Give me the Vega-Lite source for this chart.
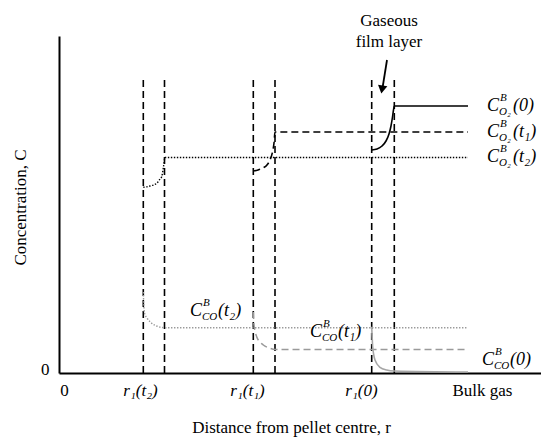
{
  "$schema": "https://vega.github.io/schema/vega-lite/v6.json",
  "width": 482,
  "height": 337,
  "autosize": "none",
  "padding": {"left": 59, "top": 36, "right": 0, "bottom": 64},
  "background": "white",
  "config": {"view": {"stroke": null}, "font": "Liberation Serif"},
  "datasets": {
    "curves": [
      {"s": "O2_0", "i": 0, "x": 312.7, "y": 223}, {"s": "O2_0", "i": 1, "x": 318, "y": 224}, {"s": "O2_0", "i": 2, "x": 323, "y": 227}, {"s": "O2_0", "i": 3, "x": 327, "y": 232}, {"s": "O2_0", "i": 4, "x": 330, "y": 239}, {"s": "O2_0", "i": 5, "x": 332, "y": 247}, {"s": "O2_0", "i": 6, "x": 333.5, "y": 256}, {"s": "O2_0", "i": 7, "x": 334.5, "y": 263}, {"s": "O2_0", "i": 8, "x": 335.3, "y": 267}, {"s": "O2_0", "i": 9, "x": 409, "y": 267},
      {"s": "O2_t1", "i": 0, "x": 194.3, "y": 202}, {"s": "O2_t1", "i": 1, "x": 199, "y": 203}, {"s": "O2_t1", "i": 2, "x": 204, "y": 205}, {"s": "O2_t1", "i": 3, "x": 208, "y": 208}, {"s": "O2_t1", "i": 4, "x": 211, "y": 213}, {"s": "O2_t1", "i": 5, "x": 213.5, "y": 221}, {"s": "O2_t1", "i": 6, "x": 215, "y": 230}, {"s": "O2_t1", "i": 7, "x": 216, "y": 241}, {"s": "O2_t1", "i": 8, "x": 409, "y": 241},
      {"s": "O2_t2", "i": 0, "x": 84.3, "y": 185.7}, {"s": "O2_t2", "i": 1, "x": 91, "y": 187}, {"s": "O2_t2", "i": 2, "x": 97.7, "y": 189.7}, {"s": "O2_t2", "i": 3, "x": 101, "y": 194}, {"s": "O2_t2", "i": 4, "x": 102.7, "y": 196.3}, {"s": "O2_t2", "i": 5, "x": 104.3, "y": 205}, {"s": "O2_t2", "i": 6, "x": 105.3, "y": 212}, {"s": "O2_t2", "i": 7, "x": 105.7, "y": 215.5}, {"s": "O2_t2", "i": 8, "x": 409, "y": 215.5},
      {"s": "CO_t2", "i": 0, "x": 84.3, "y": 81}, {"s": "CO_t2", "i": 1, "x": 84.8, "y": 68}, {"s": "CO_t2", "i": 2, "x": 85.5, "y": 60}, {"s": "CO_t2", "i": 3, "x": 88, "y": 55}, {"s": "CO_t2", "i": 4, "x": 91, "y": 51.3}, {"s": "CO_t2", "i": 5, "x": 97.7, "y": 47}, {"s": "CO_t2", "i": 6, "x": 106, "y": 45.3}, {"s": "CO_t2", "i": 7, "x": 409, "y": 45.3},
      {"s": "CO_t1", "i": 0, "x": 194.3, "y": 61}, {"s": "CO_t1", "i": 1, "x": 195, "y": 48}, {"s": "CO_t1", "i": 2, "x": 197.7, "y": 36.3}, {"s": "CO_t1", "i": 3, "x": 201, "y": 31}, {"s": "CO_t1", "i": 4, "x": 204.3, "y": 28}, {"s": "CO_t1", "i": 5, "x": 211, "y": 24.7}, {"s": "CO_t1", "i": 6, "x": 216, "y": 23.5}, {"s": "CO_t1", "i": 7, "x": 409, "y": 23.5},
      {"s": "CO_0", "i": 0, "x": 312.7, "y": 46.3}, {"s": "CO_0", "i": 1, "x": 313.2, "y": 35}, {"s": "CO_0", "i": 2, "x": 313.7, "y": 26.3}, {"s": "CO_0", "i": 3, "x": 316, "y": 13}, {"s": "CO_0", "i": 4, "x": 321, "y": 5.7}, {"s": "CO_0", "i": 5, "x": 327.7, "y": 3}, {"s": "CO_0", "i": 6, "x": 335.3, "y": 2}, {"s": "CO_0", "i": 7, "x": 409, "y": 1}
    ],
    "bounds": [
      {"x": 84.3, "y": 0, "y2": 295}, {"x": 105.5, "y": 0, "y2": 295},
      {"x": 194.3, "y": 0, "y2": 295}, {"x": 216, "y": 0, "y2": 295},
      {"x": 312.7, "y": 0, "y2": 295}, {"x": 335.3, "y": 0, "y2": 295}
    ],
    "labels": [
      {"x": 428, "y": 267, "kind": "O2", "sub": "O₂", "arg": "(0)"},
      {"x": 428, "y": 241, "kind": "O2", "sub": "O₂", "arg": "(t₁)"},
      {"x": 428, "y": 216, "kind": "O2", "sub": "O₂", "arg": "(t₂)"},
      {"x": 131, "y": 62, "kind": "CO", "sub": "CO", "arg": "(t₂)"},
      {"x": 251, "y": 41, "kind": "CO", "sub": "CO", "arg": "(t₁)"},
      {"x": 423, "y": 13, "kind": "CO", "sub": "CO", "arg": "(0)"}
    ],
    "arrow": [
      {"x": 328, "y": 313, "i": 0}, {"x": 323.5, "y": 285, "i": 1}
    ],
    "arrowhead": [{"x": 323, "y": 283.5}],
    "note": [{"x": 330, "y": 352, "t": ["Gaseous", "film layer"]}]
  },
  "layer": [
    {
      "data": {"name": "bounds"},
      "mark": {"type": "rule", "color": "black", "strokeWidth": 1.6, "strokeDash": [7, 4]},
      "encoding": {
        "x": {"field": "x", "type": "quantitative", "scale": {"domain": [0, 482], "nice": false, "zero": false},
          "axis": {"values": [5, 81, 188, 302, 423], "labelExpr": "datum.value == 5 ? '0' : datum.value == 81 ? 'r₁(t₂)' : datum.value == 188 ? 'r₁(t₁)' : datum.value == 302 ? 'r₁(0)' : 'Bulk gas'",
            "labelFontStyle": {"condition": {"test": "datum.value > 50 && datum.value < 400", "value": "italic"}, "value": "normal"},
            "ticks": false, "grid": false, "domainColor": "black", "domainWidth": 2, "labelFont": "Liberation Serif", "labelFontSize": 17, "labelColor": "black", "labelPadding": 9, "labelAlign": "center",
            "title": "Distance from pellet centre, r", "titleFont": "Liberation Serif", "titleFontSize": 17, "titleFontWeight": "normal", "titleColor": "black", "titleX": 232, "titleY": 54, "titleBaseline": "middle", "titleAnchor": "start", "titleAlign": "center"}},
        "y": {"field": "y", "type": "quantitative", "scale": {"domain": [0, 337], "nice": false},
          "axis": {"values": [4], "labelExpr": "'0'", "ticks": false, "grid": false, "domainColor": "black", "domainWidth": 2, "labelFont": "Liberation Serif", "labelFontSize": 17, "labelColor": "black", "labelPadding": 10,
            "title": "Concentration, C", "titleFont": "Liberation Serif", "titleFontSize": 17, "titleFontWeight": "normal", "titleColor": "black", "titleX": -39, "titleY": 171, "titleAlign": "center", "titleBaseline": "middle", "titleAngle": -90}},
        "y2": {"field": "y2"}
      }
    },
    {
      "data": {"name": "curves"},
      "transform": [{"filter": "datum.s == 'O2_0'"}],
      "mark": {"type": "line", "color": "black", "strokeWidth": 1.6, "interpolate": "monotone"},
      "encoding": {"x": {"field": "x", "type": "quantitative"}, "y": {"field": "y", "type": "quantitative"}, "order": {"field": "i"}}
    },
    {
      "data": {"name": "curves"},
      "transform": [{"filter": "datum.s == 'O2_t1'"}],
      "mark": {"type": "line", "color": "black", "strokeWidth": 1.6, "strokeDash": [7, 4], "interpolate": "monotone"},
      "encoding": {"x": {"field": "x", "type": "quantitative"}, "y": {"field": "y", "type": "quantitative"}, "order": {"field": "i"}}
    },
    {
      "data": {"name": "curves"},
      "transform": [{"filter": "datum.s == 'O2_t2'"}],
      "mark": {"type": "line", "color": "black", "strokeWidth": 1.4, "strokeDash": [1.4, 1.6], "interpolate": "monotone"},
      "encoding": {"x": {"field": "x", "type": "quantitative"}, "y": {"field": "y", "type": "quantitative"}, "order": {"field": "i"}}
    },
    {
      "data": {"name": "curves"},
      "transform": [{"filter": "datum.s == 'CO_t2'"}],
      "mark": {"type": "line", "color": "#9a9a9a", "strokeWidth": 1.4, "strokeDash": [1.4, 1.6], "interpolate": "monotone"},
      "encoding": {"x": {"field": "x", "type": "quantitative"}, "y": {"field": "y", "type": "quantitative"}, "order": {"field": "i"}}
    },
    {
      "data": {"name": "curves"},
      "transform": [{"filter": "datum.s == 'CO_t1'"}],
      "mark": {"type": "line", "color": "#9a9a9a", "strokeWidth": 1.5, "strokeDash": [7, 4], "interpolate": "monotone"},
      "encoding": {"x": {"field": "x", "type": "quantitative"}, "y": {"field": "y", "type": "quantitative"}, "order": {"field": "i"}}
    },
    {
      "data": {"name": "curves"},
      "transform": [{"filter": "datum.s == 'CO_0'"}],
      "mark": {"type": "line", "color": "#a6a6a6", "strokeWidth": 1.6, "interpolate": "monotone"},
      "encoding": {"x": {"field": "x", "type": "quantitative"}, "y": {"field": "y", "type": "quantitative"}, "order": {"field": "i"}}
    },
    {
      "data": {"name": "arrow"},
      "mark": {"type": "line", "color": "black", "strokeWidth": 1.8},
      "encoding": {"x": {"field": "x", "type": "quantitative"}, "y": {"field": "y", "type": "quantitative"}, "order": {"field": "i"}}
    },
    {
      "data": {"name": "arrowhead"},
      "mark": {"type": "point", "shape": "triangle-down", "filled": true, "color": "black", "size": 90, "angle": 9.5, "opacity": 1},
      "encoding": {"x": {"field": "x", "type": "quantitative"}, "y": {"field": "y", "type": "quantitative"}}
    },
    {
      "data": {"name": "note"},
      "mark": {"type": "text", "font": "Liberation Serif", "fontSize": 17, "align": "center", "baseline": "middle", "lineHeight": 21, "color": "black"},
      "encoding": {"x": {"field": "x", "type": "quantitative"}, "y": {"field": "y", "type": "quantitative"}, "text": {"field": "t"}}
    },
    {
      "data": {"name": "labels"},
      "mark": {"type": "text", "text": "C", "font": "Liberation Serif", "fontStyle": "italic", "fontSize": 18, "align": "left", "baseline": "middle", "color": "black"},
      "encoding": {"x": {"field": "x", "type": "quantitative"}, "y": {"field": "y", "type": "quantitative"}}
    },
    {
      "data": {"name": "labels"},
      "mark": {"type": "text", "text": "B", "font": "Liberation Serif", "fontStyle": "italic", "fontSize": 11, "align": "left", "baseline": "middle", "dx": 13, "dy": -8, "color": "black"},
      "encoding": {"x": {"field": "x", "type": "quantitative"}, "y": {"field": "y", "type": "quantitative"}}
    },
    {
      "data": {"name": "labels"},
      "mark": {"type": "text", "font": "Liberation Serif", "fontStyle": "italic", "fontSize": 11, "align": "left", "baseline": "middle", "dx": 12, "dy": 6, "color": "black"},
      "encoding": {"x": {"field": "x", "type": "quantitative"}, "y": {"field": "y", "type": "quantitative"}, "text": {"field": "sub"}}
    },
    {
      "data": {"name": "labels"},
      "transform": [{"filter": "datum.kind == 'O2'"}],
      "mark": {"type": "text", "font": "Liberation Serif", "fontStyle": "italic", "fontSize": 18, "align": "left", "baseline": "middle", "dx": 26, "color": "black"},
      "encoding": {"x": {"field": "x", "type": "quantitative"}, "y": {"field": "y", "type": "quantitative"}, "text": {"field": "arg"}}
    },
    {
      "data": {"name": "labels"},
      "transform": [{"filter": "datum.kind == 'CO'"}],
      "mark": {"type": "text", "font": "Liberation Serif", "fontStyle": "italic", "fontSize": 18, "align": "left", "baseline": "middle", "dx": 28, "color": "black"},
      "encoding": {"x": {"field": "x", "type": "quantitative"}, "y": {"field": "y", "type": "quantitative"}, "text": {"field": "arg"}}
    }
  ]
}
